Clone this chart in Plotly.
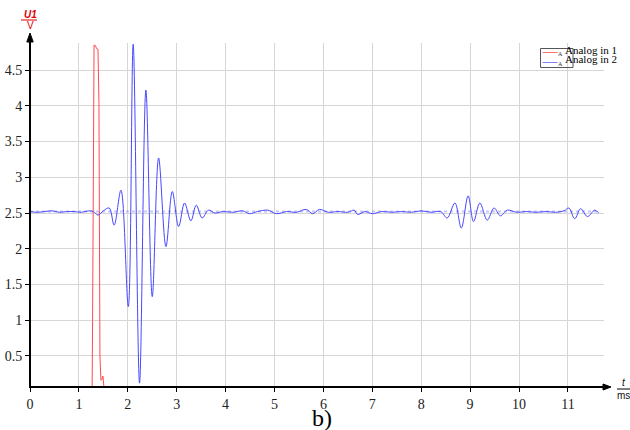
import plotly.graph_objects as go

# ---------------- data ----------------
red_t = [0.00, 1.27, 1.28, 1.30, 1.31, 1.34, 1.36, 1.39, 1.41, 1.43, 1.45, 1.47, 1.49, 1.50, 1.52, 11.63]
red_v = [0.00, 0.00, 1.00, 3.50, 4.85, 4.84, 4.80, 4.79, 4.05, 0.50, 0.16, 0.17, 0.22, 0.16, 0.00, 0.00]

blue_t = [0.00, 0.15, 0.30, 0.45, 0.60, 0.75, 0.90, 1.05, 1.20, 1.30, 1.39, 1.50, 1.62, 1.72, 1.86,
          2.01, 2.11, 2.24, 2.37, 2.50, 2.63, 2.78, 2.91, 3.04, 3.16, 3.29, 3.40, 3.52, 3.65, 3.78,
          3.95, 4.15, 4.35, 4.49, 4.65, 4.86, 5.04, 5.25, 5.45, 5.65, 5.78, 5.92, 6.10, 6.30, 6.50,
          6.63, 6.70, 6.85, 7.00, 7.20, 7.40, 7.60, 7.80, 8.00, 8.20, 8.40, 8.53, 8.69, 8.82, 8.96,
          9.07, 9.20, 9.35, 9.49, 9.62, 9.76, 9.95, 10.15, 10.35, 10.55, 10.75, 10.92, 11.02, 11.14,
          11.26, 11.40, 11.55, 11.63]
blue_v = [2.52, 2.51, 2.52, 2.53, 2.51, 2.52, 2.52, 2.51, 2.53, 2.52, 2.47, 2.53, 2.57, 2.33, 2.82,
          1.19, 4.86, 0.12, 4.22, 1.33, 3.27, 2.03, 2.80, 2.31, 2.64, 2.39, 2.61, 2.43, 2.54, 2.50,
          2.52, 2.51, 2.53, 2.49, 2.52, 2.54, 2.49, 2.52, 2.51, 2.55, 2.49, 2.55, 2.51, 2.52, 2.51,
          2.54, 2.48, 2.52, 2.49, 2.52, 2.51, 2.52, 2.51, 2.53, 2.51, 2.52, 2.43, 2.64, 2.29, 2.74,
          2.38, 2.64, 2.40, 2.57, 2.46, 2.54, 2.51, 2.52, 2.51, 2.52, 2.51, 2.53, 2.57, 2.42,
          2.56, 2.45, 2.54, 2.50]
baseline_level = 2.52

x_ticks = list(range(0, 12))
x_labels = [str(v) for v in x_ticks]
y_ticks = [0.5, 1, 1.5, 2, 2.5, 3, 3.5, 4, 4.5]
y_labels = ["0.5", "1", "1.5", "2", "2.5", "3", "3.5", "4", "4.5"]
series_names = ["Analog in 1", "Analog in 2"]

# ---------------- layout geometry ----------------
W, H = 630, 430
L, R, T, B = 30, 26, 43, 43
PW, PH = W - L - R, H - T - B
PX_PER_MS = 48.9
X_MAX = PW / PX_PER_MS
Y_MIN, Y_MAX = 0.066, 4.878

RED = "#ff4a4a"
BLUE = "#4848ff"
SERIF = "Liberation Serif"
SANS = "Liberation Sans"


def px(x):
    return (x - L) / PW


def py(y):
    return (H - B - y) / PH


fig = go.Figure()

# light dotted baseline band of channel 2
fig.add_trace(go.Scatter(x=[blue_t[0], blue_t[-1]], y=[baseline_level, baseline_level],
                         mode="lines", showlegend=False, hoverinfo="skip",
                         line=dict(color="rgba(90,90,255,0.35)", width=2, dash="dot")))

fig.add_trace(go.Scatter(x=red_t, y=red_v, mode="lines", name=series_names[0],
                         showlegend=False, line=dict(color=RED, width=1)))
fig.add_trace(go.Scatter(x=blue_t, y=blue_v, mode="lines", name=series_names[1],
                         showlegend=False, line=dict(color=BLUE, width=1, shape="spline", smoothing=1.0)))

fig.update_xaxes(range=[0, X_MAX], tickvals=x_ticks, ticktext=x_labels, showgrid=True, automargin=False,
                 gridcolor="#d6d6d6", gridwidth=1, zeroline=False, showline=False,
                 ticks="outside", ticklen=4, tickcolor="#000", tickwidth=1,
                 tickfont=dict(family=SERIF, size=14, color="#222"))
fig.update_yaxes(range=[Y_MIN, Y_MAX], tickvals=y_ticks, ticktext=y_labels, showgrid=True, automargin=False,
                 gridcolor="#d6d6d6", gridwidth=1, zeroline=False, showline=False,
                 ticks="outside", ticklen=4, tickcolor="#000", tickwidth=1,
                 tickfont=dict(family=SERIF, size=14, color="#222"))

shapes = []
# axes with arrows
shapes.append(dict(type="line", xref="paper", yref="paper", x0=px(30), x1=px(30), y0=py(388), y1=py(40),
                   line=dict(color="#000", width=2)))
shapes.append(dict(type="line", xref="paper", yref="paper", x0=px(29), x1=px(606), y0=py(387), y1=py(387),
                   line=dict(color="#000", width=2)))
shapes.append(dict(type="path", xref="paper", yref="paper",
                   path=f"M {px(30)},{py(33)} L {px(26.8)},{py(42)} L {px(33.2)},{py(42)} Z",
                   fillcolor="#000", line=dict(color="#000", width=1)))
shapes.append(dict(type="path", xref="paper", yref="paper",
                   path=f"M {px(611)},{py(387)} L {px(603)},{py(384)} L {px(603)},{py(390)} Z",
                   fillcolor="#000", line=dict(color="#000", width=1)))
# axis unit fraction bars
shapes.append(dict(type="line", xref="paper", yref="paper", x0=px(21), x1=px(37), y0=py(20), y1=py(20),
                   line=dict(color="#e00000", width=1)))
shapes.append(dict(type="line", xref="paper", yref="paper", x0=px(617), x1=px(630), y0=py(389), y1=py(389),
                   line=dict(color="#000", width=1)))
# legend box and samples
shapes.append(dict(type="rect", xref="paper", yref="paper", x0=px(540.5), x1=px(573), y0=py(67.5), y1=py(48.5),
                   line=dict(color="#555", width=1), fillcolor="rgba(255,255,255,0)"))
shapes.append(dict(type="line", xref="paper", yref="paper", x0=px(542.5), x1=px(557.5), y0=py(52.5), y1=py(52.5),
                   line=dict(color="#ff7070", width=1)))
shapes.append(dict(type="line", xref="paper", yref="paper", x0=px(542.5), x1=px(557.5), y0=py(62.5), y1=py(62.5),
                   line=dict(color="#8080ff", width=1)))

ann = []
ann.append(dict(text="<b><i>U1</i></b>", x=px(30), y=py(14), xref="paper", yref="paper", showarrow=False,
                font=dict(family=SANS, size=10, color="#e00000"), xanchor="center", yanchor="middle"))
ann.append(dict(text="V", x=px(30), y=py(26), xref="paper", yref="paper", showarrow=False,
                font=dict(family=SANS, size=10, color="#e00000"), xanchor="center", yanchor="middle"))
ann.append(dict(text="<i>t</i>", x=px(624), y=py(382), xref="paper", yref="paper", showarrow=False,
                font=dict(family=SANS, size=10, color="#111"), xanchor="center", yanchor="middle"))
ann.append(dict(text="ms", x=px(623.5), y=py(395), xref="paper", yref="paper", showarrow=False,
                font=dict(family=SANS, size=10, color="#111"), xanchor="center", yanchor="middle"))
ann.append(dict(text="b)", x=px(322), y=py(418), xref="paper", yref="paper", showarrow=False,
                font=dict(family=SERIF, size=24, color="#000"), xanchor="center", yanchor="middle"))
for i, name in enumerate(series_names):
    ann.append(dict(text="A", x=px(556.5), y=py(54 + 10 * i), xref="paper", yref="paper", showarrow=False,
                    font=dict(family=SERIF, size=6, color="#333"), xanchor="left", yanchor="middle",
                    borderpad=0))
    ann.append(dict(text=name, x=px(563.5), y=py(49.5 + 10 * i), xref="paper", yref="paper", showarrow=False,
                    font=dict(family=SERIF, size=11, color="#000"), xanchor="left", yanchor="middle",
                    borderpad=0))

fig.update_layout(width=W, height=H, margin=dict(l=L, r=R, t=T, b=B, pad=0, autoexpand=False),
                  font=dict(family=SERIF, color="#222"),
                  plot_bgcolor="white", paper_bgcolor="white", showlegend=False,
                  shapes=shapes, annotations=ann)

fig.write_html("out.html", config={"displayModeBar": False},
               post_script="document.body.style.margin='0';document.body.style.padding='0';")
